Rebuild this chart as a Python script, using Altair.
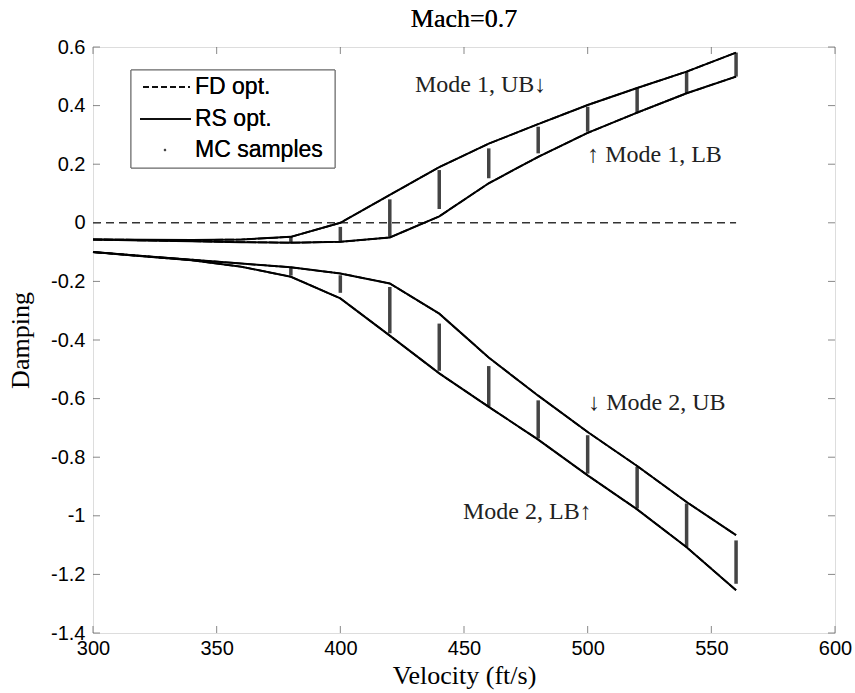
import altair as alt
import pandas as pd

# Flutter damping bounds versus velocity, Mach 0.7
velocity = [300, 320, 340, 360, 380, 400, 420, 440, 460, 480, 500, 520, 540, 560]
mode1_ub = [-0.057, -0.058, -0.059, -0.057, -0.048, 0.0, 0.095, 0.19, 0.27, 0.337, 0.402, 0.46, 0.516, 0.581]
mode1_lb = [-0.057, -0.060, -0.063, -0.066, -0.068, -0.065, -0.05, 0.022, 0.135, 0.225, 0.307, 0.376, 0.442, 0.499]
mode2_ub = [-0.10, -0.113, -0.126, -0.139, -0.152, -0.173, -0.207, -0.31, -0.46, -0.59, -0.714, -0.83, -0.953, -1.066]
mode2_lb = [-0.10, -0.114, -0.128, -0.15, -0.184, -0.258, -0.385, -0.514, -0.628, -0.74, -0.862, -0.978, -1.107, -1.254]

# Monte Carlo sample spread at each velocity
mc_velocity = [380, 400, 420, 440, 460, 480, 500, 520, 540, 560]
mc1_hi = [-0.048, -0.014, 0.08, 0.18, 0.254, 0.328, 0.396, 0.459, 0.516, 0.581]
mc1_lo = [-0.068, -0.065, -0.048, 0.047, 0.152, 0.237, 0.311, 0.374, 0.442, 0.499]
mc2_hi = [-0.152, -0.179, -0.219, -0.344, -0.489, -0.606, -0.725, -0.833, -0.958, -1.084]
mc2_lo = [-0.18, -0.239, -0.377, -0.505, -0.628, -0.736, -0.856, -0.975, -1.107, -1.232]

zero_line_v = [300, 560]

x_ticks = [300, 350, 400, 450, 500, 550, 600]
y_ticks = [0.6, 0.4, 0.2, 0.0, -0.2, -0.4, -0.6, -0.8, -1.0, -1.2, -1.4]

annotations = [
    ("Mode 1, UB\u2193", 430.2, 0.47),
    ("\u2191 Mode 1, LB", 499.8, 0.231),
    ("\u2193 Mode 2, UB", 500.2, -0.615),
    ("Mode 2, LB\u2191", 449.6, -0.987),
]

W, H = 742, 586
SERIF = "Liberation Serif"
SANS = "Liberation Sans"

curves = pd.concat([
    pd.DataFrame({"v": velocity, "d": vals, "curve": name})
    for name, vals in [("m1ub", mode1_ub), ("m1lb", mode1_lb),
                       ("m2ub", mode2_ub), ("m2lb", mode2_lb)]
])
mc = pd.concat([
    pd.DataFrame({"v": mc_velocity, "lo": mc1_lo, "hi": mc1_hi}),
    pd.DataFrame({"v": mc_velocity, "lo": mc2_lo, "hi": mc2_hi}),
])
zero = pd.DataFrame({"v": zero_line_v, "d": [0.0, 0.0]})
ann = pd.DataFrame(annotations, columns=["text", "v", "d"])
xt = pd.DataFrame({"v": x_ticks})
yt = pd.DataFrame({"d": y_ticks})

xscale = alt.Scale(domain=[300, 600], nice=False, zero=False)
yscale = alt.Scale(domain=[-1.4, 0.6], nice=False, zero=False)

xaxis = alt.Axis(values=x_ticks, ticks=False, domain=False, grid=False,
                 labelFont=SANS, labelFontSize=20, labelColor="black",
                 labelPadding=5, labelFlush=False, labelOverlap=False,
                 title="Velocity (ft/s)", titleFont=SERIF,
                 titleFontSize=26, titleFontWeight="normal", titleColor="black",
                 titleY=50, titleBaseline="alphabetic")
yaxis = alt.Axis(values=y_ticks, ticks=False, domain=False, grid=False,
                 labelFont=SANS, labelFontSize=20, labelColor="black",
                 labelPadding=8, labelFlush=False, labelOverlap=False,
                 labelExpr="datum.value == 0 ? '0' : toString(round(datum.value * 10) / 10)",
                 title="Damping", titleFont=SERIF, titleFontSize=26,
                 titleFontWeight="normal", titleColor="black",
                 titleX=-73, titleBaseline="middle")

X = alt.X("v:Q", scale=xscale, axis=xaxis)
Y = alt.Y("d:Q", scale=yscale, axis=yaxis)

# RS optimisation bounds (solid)
rs = alt.Chart(curves).mark_line(color="black", strokeWidth=2.0).encode(
    x=X, y=Y, detail="curve:N", order="v:Q")
# FD optimisation bounds (dashed, on top)
fd = alt.Chart(curves).mark_line(color="black", strokeWidth=1.7, strokeDash=[9, 2]).encode(
    x="v:Q", y="d:Q", detail="curve:N", order="v:Q")
zero_l = alt.Chart(zero).mark_line(color="#333333", strokeWidth=1.5, strokeDash=[8, 5]).encode(
    x="v:Q", y="d:Q")
bars = alt.Chart(mc).mark_rule(color="#444444", strokeWidth=3.5).encode(
    x="v:Q", y="lo:Q", y2="hi:Q")
labels = alt.Chart(ann).mark_text(font=SERIF, fontSize=24, align="left",
                                   baseline="middle", color="#222222").encode(
    x="v:Q", y="d:Q", text="text:N")

# title above the plot area
title = alt.Chart(zero).mark_text(
    text="Mach=0.7", font=SERIF, fontSize=26, align="center",
    baseline="middle", color="black"
).encode(x=alt.value(W / 2), y=alt.value(-28))

# inward tick marks on all four sides
tick_style = dict(color="#555555", thickness=1, size=7)
t_bottom = alt.Chart(xt).mark_tick(orient="vertical", **tick_style).encode(
    x="v:Q", y=alt.value(H - 3.5))
t_top = alt.Chart(xt).mark_tick(orient="vertical", **tick_style).encode(
    x="v:Q", y=alt.value(3.5))
t_left = alt.Chart(yt).mark_tick(orient="horizontal", **tick_style).encode(
    y="d:Q", x=alt.value(3.5))
t_right = alt.Chart(yt).mark_tick(orient="horizontal", **tick_style).encode(
    y="d:Q", x=alt.value(W - 3.5))

# legend box
legend_box = alt.Chart(zero).mark_rect(fill="white", stroke="#666666", strokeWidth=1).encode(
    x=alt.value(38), x2=alt.value(242), y=alt.value(23), y2=alt.value(121))
leg_fd = alt.Chart(zero).mark_rule(color="black", strokeWidth=1.6, strokeDash=[6, 3]).encode(
    x=alt.value(50), x2=alt.value(97), y=alt.value(40))
leg_rs = alt.Chart(zero).mark_rule(color="black", strokeWidth=1.6).encode(
    x=alt.value(47), x2=alt.value(98), y=alt.value(72))
leg_mc = alt.Chart(zero).mark_point(filled=True, color="#333333", size=6, shape="circle").encode(
    x=alt.value(72), y=alt.value(103))
leg_text = lambda s, yy: alt.Chart(zero).mark_text(
    text=s, font=SANS, fontSize=23, align="left", baseline="middle", color="black"
).encode(x=alt.value(102), y=alt.value(yy))

chart = alt.layer(
    zero_l, bars, rs, fd, labels, title,
    t_bottom, t_top, t_left, t_right,
    legend_box, leg_fd, leg_rs, leg_mc,
    leg_text("FD opt.", 40), leg_text("RS opt.", 72), leg_text("MC samples", 103),
).properties(
    width=W, height=H,
    autosize=alt.AutoSizeParams(type="none"),
    padding={"left": 93, "top": 47, "right": 20, "bottom": 60},
).configure_view(stroke="#666666", strokeWidth=1).configure(background="white")

chart.save("out.html", embed_options={"renderer": "svg", "actions": False})
